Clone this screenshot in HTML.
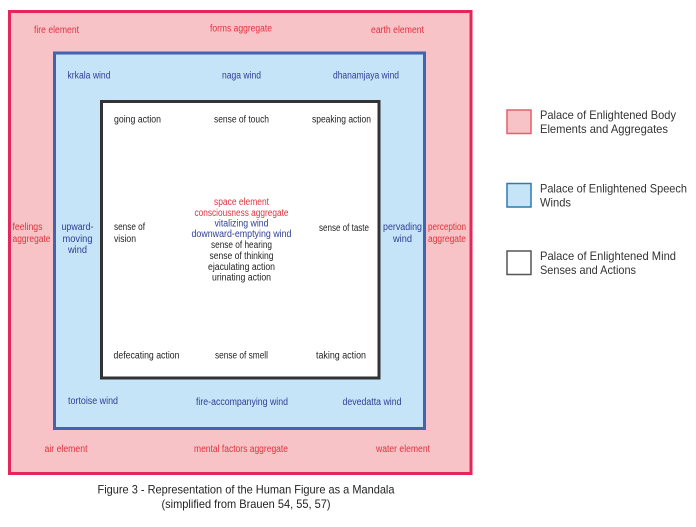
<!DOCTYPE html>
<html><head><meta charset="utf-8"><style>
html,body{margin:0;padding:0;background:#fff}
svg{display:block}
text{font-family:"Liberation Sans",sans-serif;font-size:10px;text-anchor:middle}
.r{fill:#e0323f}.b{fill:#2e3f96}.k{fill:#222}
.s{text-anchor:start}
.l{font-size:12px;text-anchor:start;fill:#333}
.c{font-size:12px;fill:#222}
</style></head><body>
<svg width="696" height="527" viewBox="0 0 696 527" xmlns="http://www.w3.org/2000/svg">
<rect x="9.500" y="11.500" width="461.500" height="462" fill="#f8c3c6" stroke="#e4275a" stroke-width="3"/>
<rect x="54.500" y="53" width="370" height="375.500" fill="#c5e4f7" stroke="#4065ae" stroke-width="3"/>
<rect x="101.500" y="101.500" width="277.500" height="276.500" fill="#fff" stroke="#333" stroke-width="3"/>

<text class="r" x="56.500" y="33" textLength="45" lengthAdjust="spacingAndGlyphs">fire element</text>
<text class="r" x="241" y="31.500" textLength="62" lengthAdjust="spacingAndGlyphs">forms aggregate</text>
<text class="r" x="397.500" y="33" textLength="53" lengthAdjust="spacingAndGlyphs">earth element</text>
<text class="r s" x="12.500" y="230" textLength="30" lengthAdjust="spacingAndGlyphs">feelings</text>
<text class="r s" x="12.500" y="242" textLength="38" lengthAdjust="spacingAndGlyphs">aggregate</text>
<text class="r" x="447" y="230" textLength="38" lengthAdjust="spacingAndGlyphs">perception</text>
<text class="r" x="447" y="242" textLength="38" lengthAdjust="spacingAndGlyphs">aggregate</text>
<text class="r" x="66" y="452" textLength="43" lengthAdjust="spacingAndGlyphs">air element</text>
<text class="r" x="241" y="452" textLength="94" lengthAdjust="spacingAndGlyphs">mental factors aggregate</text>
<text class="r" x="403" y="452" textLength="54" lengthAdjust="spacingAndGlyphs">water element</text>

<text class="b" x="89" y="78.500" textLength="43" lengthAdjust="spacingAndGlyphs">krkala wind</text>
<text class="b" x="241.500" y="78.500" textLength="39" lengthAdjust="spacingAndGlyphs">naga wind</text>
<text class="b" x="366" y="78.500" textLength="66" lengthAdjust="spacingAndGlyphs">dhanamjaya wind</text>
<text class="b" x="77.500" y="230" textLength="32" lengthAdjust="spacingAndGlyphs">upward-</text>
<text class="b" x="77.500" y="242" textLength="30" lengthAdjust="spacingAndGlyphs">moving</text>
<text class="b" x="77.500" y="253" textLength="19" lengthAdjust="spacingAndGlyphs">wind</text>
<text class="b" x="402.500" y="230" textLength="39" lengthAdjust="spacingAndGlyphs">pervading</text>
<text class="b" x="402.500" y="242" textLength="19" lengthAdjust="spacingAndGlyphs">wind</text>
<text class="b" x="93" y="404" textLength="50" lengthAdjust="spacingAndGlyphs">tortoise wind</text>
<text class="b" x="242" y="405" textLength="92" lengthAdjust="spacingAndGlyphs">fire-accompanying wind</text>
<text class="b" x="372" y="405" textLength="59" lengthAdjust="spacingAndGlyphs">devedatta wind</text>

<text class="k" x="137.500" y="122.500" textLength="47" lengthAdjust="spacingAndGlyphs">going action</text>
<text class="k" x="241.500" y="122.500" textLength="55" lengthAdjust="spacingAndGlyphs">sense of touch</text>
<text class="k" x="341.500" y="122.500" textLength="59" lengthAdjust="spacingAndGlyphs">speaking action</text>
<text class="k s" x="114" y="230" textLength="31" lengthAdjust="spacingAndGlyphs">sense of</text>
<text class="k s" x="114" y="242" textLength="22" lengthAdjust="spacingAndGlyphs">vision</text>
<text class="k" x="344" y="231" textLength="50" lengthAdjust="spacingAndGlyphs">sense of taste</text>
<text class="k" x="146.500" y="358.500" textLength="66" lengthAdjust="spacingAndGlyphs">defecating action</text>
<text class="k" x="241.500" y="358.500" textLength="53" lengthAdjust="spacingAndGlyphs">sense of smell</text>
<text class="k" x="341" y="358.500" textLength="50" lengthAdjust="spacingAndGlyphs">taking action</text>

<text class="r" x="241.500" y="205" textLength="55" lengthAdjust="spacingAndGlyphs">space element</text>
<text class="r" x="241.500" y="216" textLength="94" lengthAdjust="spacingAndGlyphs">consciousness aggregate</text>
<text class="b" x="241.500" y="226.500" textLength="54" lengthAdjust="spacingAndGlyphs">vitalizing wind</text>
<text class="b" x="241.500" y="237" textLength="100" lengthAdjust="spacingAndGlyphs">downward-emptying wind</text>
<text class="k" x="241.500" y="248" textLength="61" lengthAdjust="spacingAndGlyphs">sense of hearing</text>
<text class="k" x="241.500" y="259" textLength="64" lengthAdjust="spacingAndGlyphs">sense of thinking</text>
<text class="k" x="241.500" y="270" textLength="67" lengthAdjust="spacingAndGlyphs">ejaculating action</text>
<text class="k" x="241.500" y="280.500" textLength="59" lengthAdjust="spacingAndGlyphs">urinating action</text>

<rect x="507" y="110" width="24" height="23.500" fill="#f8c3c6" stroke="#e4606a" stroke-width="1.500"/>
<rect x="507" y="183.500" width="24" height="23.500" fill="#c5e4f7" stroke="#2f79b0" stroke-width="1.500"/>
<rect x="507" y="251" width="24" height="23.500" fill="#fff" stroke="#555" stroke-width="1.500"/>
<text class="l" x="540" y="119" textLength="136" lengthAdjust="spacingAndGlyphs">Palace of Enlightened Body</text>
<text class="l" x="540" y="133" textLength="128" lengthAdjust="spacingAndGlyphs">Elements and Aggregates</text>
<text class="l" x="540" y="192.500" textLength="147" lengthAdjust="spacingAndGlyphs">Palace of Enlightened Speech</text>
<text class="l" x="540" y="206.500" textLength="31" lengthAdjust="spacingAndGlyphs">Winds</text>
<text class="l" x="540" y="260" textLength="136" lengthAdjust="spacingAndGlyphs">Palace of Enlightened Mind</text>
<text class="l" x="540" y="274" textLength="96" lengthAdjust="spacingAndGlyphs">Senses and Actions</text>

<text class="c" x="246" y="493.500" textLength="297" lengthAdjust="spacingAndGlyphs">Figure 3 - Representation of the Human Figure as a Mandala</text>
<text class="c" x="246" y="508" textLength="169" lengthAdjust="spacingAndGlyphs">(simplified from Brauen 54, 55, 57)</text>
</svg>
</body></html>
